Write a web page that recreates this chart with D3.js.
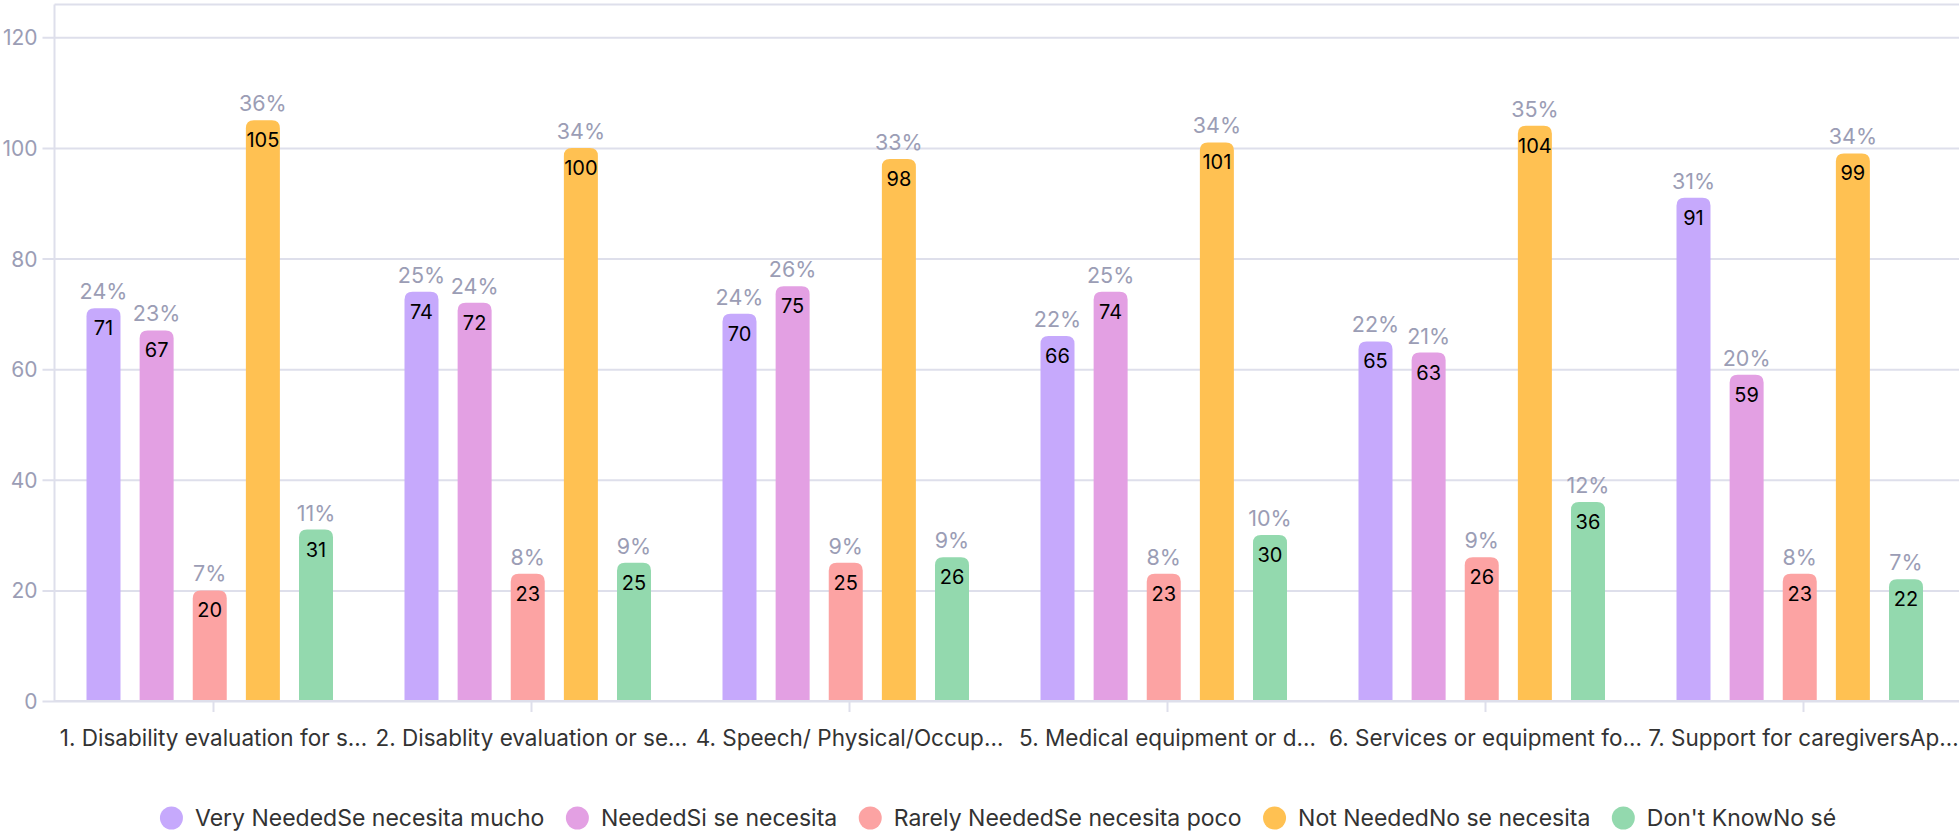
<!DOCTYPE html>
<html>
<head>
<meta charset="utf-8">
<script src="https://cdn.jsdelivr.net/npm/d3@7"></script>
<style>
  html, body { margin: 0; padding: 0; background: #ffffff; }
  svg { display: block; }
</style>
</head>
<body>
<svg id="chart" width="1959" height="831"></svg>
<script>
// Survey categories (labels are shown truncated, as on the axis)
const categories = [
  "1. Disability evaluation for s\u2026",
  "2. Disablity evaluation or se\u2026",
  "4. Speech/ Physical/Occup\u2026",
  "5. Medical equipment or d\u2026",
  "6. Services or equipment fo\u2026",
  "7. Support for caregiversAp\u2026"
];

const seriesNames = [
  "Very NeededSe necesita mucho",
  "NeededSi se necesita",
  "Rarely NeededSe necesita poco",
  "Not NeededNo se necesita",
  "Don't KnowNo s\u00e9"
];

const veryNeeded   = [71, 74, 70, 66, 65, 91];
const needed       = [67, 72, 75, 74, 63, 59];
const rarelyNeeded = [20, 23, 25, 23, 26, 23];
const notNeeded    = [105, 100, 98, 101, 104, 99];
const dontKnow     = [31, 25, 26, 30, 36, 22];

const yTicks = [0, 20, 40, 60, 80, 100, 120];

const seriesColors = ["#c6a9fc", "#e3a0e3", "#fca3a3", "#ffc152", "#93d9ae"];

const seriesValues = [veryNeeded, needed, rarelyNeeded, notNeeded, dontKnow];

// Share of each answer within its category
const totals = categories.map((c, i) => d3.sum(seriesValues, s => s[i]));

const svg = d3.select("#chart");
const W = 1959;

const plot = { left: 54.5, right: 1962.5, top: 4.5, bottom: 701 };

const x0 = d3.scaleBand()
  .domain(categories)
  .range([plot.left, plot.right])
  .padding(0);

const x1 = d3.scaleBand()
  .domain(seriesNames)
  .range([32, 278.5])
  .paddingInner(0.36)
  .paddingOuter(0);

const y = d3.scaleLinear()
  .domain([0, 120])
  .range([plot.bottom, 37.3]);

const gridColor = "#dedfeb";
const mutedText = "#9b9db5";
const fontMain = "Inter, 'Noto Sans', sans-serif";

// Horizontal grid lines with the left tick stubs
const yAxis = d3.axisLeft(y)
  .tickValues(yTicks)
  .tickSize(-(W - plot.left + 20))
  .tickPadding(17)
  .tickFormat(d3.format("d"));

const gy = svg.append("g")
  .attr("transform", `translate(${plot.left},0)`)
  .call(yAxis);
gy.select(".domain").remove();
gy.selectAll(".tick line")
  .attr("x1", -12)
  .attr("stroke", gridColor)
  .attr("stroke-width", 2);
gy.selectAll(".tick text")
  .attr("fill", mutedText)
  .attr("font-family", fontMain)
  .attr("font-size", 21)
  .attr("dy", "0.36em");

// Frame: top line and left axis line
svg.append("line")
  .attr("x1", plot.left).attr("x2", W)
  .attr("y1", plot.top).attr("y2", plot.top)
  .attr("stroke", gridColor).attr("stroke-width", 2);
svg.append("line")
  .attr("x1", plot.left).attr("x2", plot.left)
  .attr("y1", plot.top).attr("y2", plot.bottom)
  .attr("stroke", gridColor).attr("stroke-width", 2);

// Bars
const barRadius = 8;
function topRoundedBar(x, yTop, w, h, r) {
  const rr = Math.min(r, w / 2, h);
  return `M${x},${yTop + h}` +
    `V${yTop + rr}` +
    `Q${x},${yTop} ${x + rr},${yTop}` +
    `H${x + w - rr}` +
    `Q${x + w},${yTop} ${x + w},${yTop + rr}` +
    `V${yTop + h}Z`;
}

const barData = [];
categories.forEach((cat, ci) => {
  seriesNames.forEach((s, si) => {
    const v = seriesValues[si][ci];
    barData.push({ cat, series: s, si, value: v, pct: Math.round(100 * v / totals[ci]) });
  });
});

const groups = svg.append("g");
const bx = d => x0(d.cat) + x1(d.series);

groups.selectAll("path.bar")
  .data(barData)
  .join("path")
  .attr("class", "bar")
  .attr("fill", d => seriesColors[d.si])
  .attr("d", d => topRoundedBar(bx(d), y(d.value), x1.bandwidth(), y(0) - y(d.value), barRadius));

// Value inside the top of each bar
groups.selectAll("text.val")
  .data(barData)
  .join("text")
  .attr("class", "val")
  .attr("x", d => bx(d) + x1.bandwidth() / 2)
  .attr("y", d => y(d.value) + 27)
  .attr("text-anchor", "middle")
  .attr("font-family", fontMain)
  .attr("font-size", 20)
  .attr("fill", "#000")
  .text(d => d.value);

// Percentage above each bar
groups.selectAll("text.pct")
  .data(barData)
  .join("text")
  .attr("class", "pct")
  .attr("x", d => bx(d) + x1.bandwidth() / 2)
  .attr("y", d => y(d.value) - 9)
  .attr("text-anchor", "middle")
  .attr("font-family", fontMain)
  .attr("font-size", 21.5)
  .attr("fill", mutedText)
  .text(d => d.pct + "%");

// Baseline axis with category labels
const xAxis = d3.axisBottom(x0).tickSize(11).tickPadding(18).tickSizeOuter(0);
const gx = svg.append("g")
  .attr("transform", `translate(0,${plot.bottom})`)
  .call(xAxis);
gx.select(".domain")
  .attr("d", `M${plot.left},0H${W}`)
  .attr("stroke", gridColor)
  .attr("stroke-width", 2);
gx.selectAll(".tick line").attr("stroke", gridColor).attr("stroke-width", 2);
gx.selectAll(".tick text")
  .attr("fill", "#333")
  .attr("font-family", fontMain)
  .attr("font-size", 22.5);

// Legend, centred under the chart
const legend = svg.append("g").attr("transform", "translate(0,818)");
const items = legend.selectAll("g.item")
  .data(seriesNames)
  .join("g")
  .attr("class", "item");
items.append("circle")
  .attr("r", 11.5)
  .attr("cx", 11.5)
  .attr("cy", 0)
  .attr("fill", (d, i) => seriesColors[i]);
items.append("text")
  .attr("x", 35)
  .attr("y", 0)
  .attr("dy", "0.35em")
  .attr("font-family", fontMain)
  .attr("font-size", 23)
  .attr("fill", "#333")
  .text(d => d);

const gap = 21.5;
const widths = [];
items.each(function () {
  const w = 35 + this.querySelector("text").getComputedTextLength();
  widths.push(w);
});
const totalW = d3.sum(widths) + gap * (widths.length - 1);
let start = 998 - totalW / 2;
items.attr("transform", (d, i) => {
  const tx = start;
  start += widths[i] + gap;
  return `translate(${tx},0)`;
});
</script>
</body>
</html>
